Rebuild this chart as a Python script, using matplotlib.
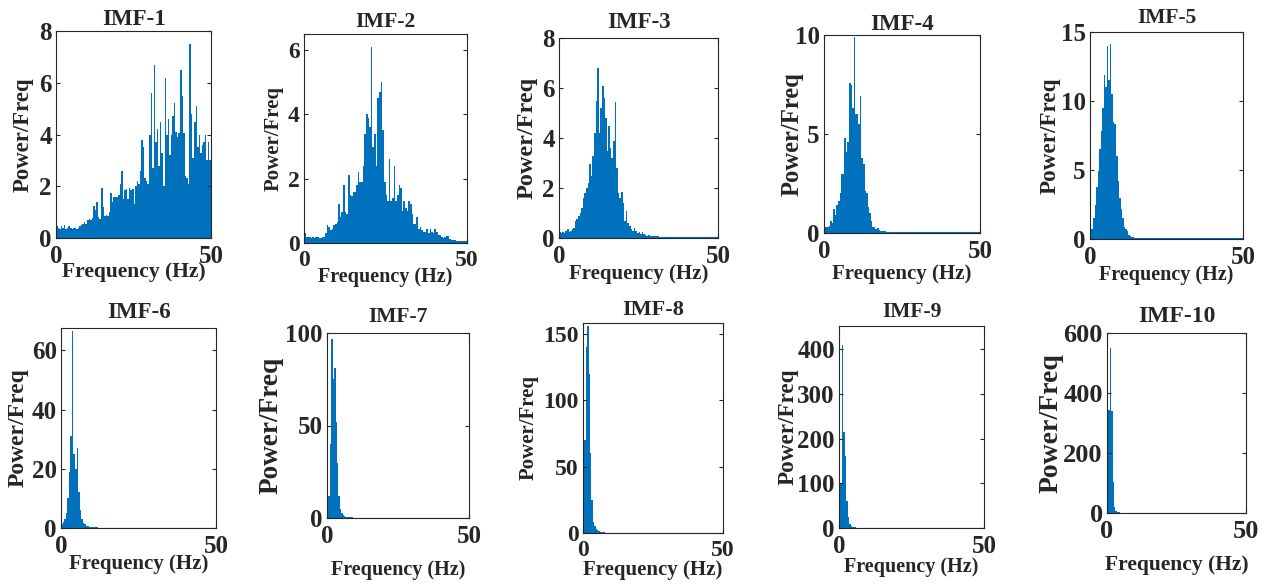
import numpy as np
import matplotlib.pyplot as plt

# Spectra, one value per 0.5 Hz bin starting at 0 Hz
imf1 = [0.45, 0.4, 0.35, 0.45, 0.4, 0.5, 0.35, 0.4, 0.45, 0.4, 0.35, 0.4, 0.4, 0.35, 0.4, 0.45,
        0.5, 0.55, 0.6, 0.55, 0.7, 0.75, 0.7, 0.78, 1.25, 1.1, 1.4, 0.8, 0.75, 1.95, 1.2, 0.85,
        0.9, 0.85, 1.0, 1.75, 1.4, 1.6, 1.6, 1.6, 1.65, 2.1, 2.6, 1.5, 1.85, 1.9, 1.5, 1.95,
        1.85, 1.9, 1.3, 2.0, 2.2, 2.1, 2.6, 3.8, 3.5, 2.3, 2.2, 2.1, 4.0, 5.6, 2.7, 6.7,
        3.7, 4.2, 2.8, 4.5, 3.3, 2.0, 6.2, 4.0, 4.6, 3.2, 4.0, 4.7, 5.2, 4.1, 3.9, 4.05,
        6.5, 5.5, 4.05, 2.4, 2.3, 2.1, 7.5, 4.8, 3.1, 4.5, 5.1, 3.5, 4.0, 3.3, 3.6, 3.7,
        4.0, 3.0, 3.7, 3.0, 8.0, 3.8]
imf2 = [0.3, 0.2, 0.18, 0.2, 0.17, 0.19, 0.15, 0.18, 0.2, 0.17, 0.16, 0.2, 0.18, 0.3, 0.55, 0.5,
        0.4, 0.45, 0.55, 0.6, 0.65, 1.22, 0.8, 0.95, 1.8, 0.95, 0.9, 2.1, 1.5, 1.45, 1.6, 1.6,
        1.8, 2.2, 1.9, 1.9, 2.4, 3.4, 4.0, 3.9, 3.6, 6.1, 3.0, 3.4, 2.4, 4.5, 4.7, 5.0,
        3.5, 1.9, 1.5, 1.3, 2.6, 1.3, 1.4, 2.4, 1.3, 1.5, 1.8, 1.7, 1.0, 1.3, 1.1, 1.0,
        1.3, 1.2, 0.9, 0.6, 0.6, 0.8, 0.45, 0.5, 0.4, 0.35, 0.35, 0.45, 0.3, 0.45, 0.35, 0.3,
        0.45, 0.35, 0.25, 0.25, 0.2, 0.17, 0.2, 0.22, 0.22, 0.12, 0.1, 0.08, 0.1, 0.06, 0.07, 0.05,
        0.06, 0.05, 0.06, 0.05]
imf3 = [0.25, 0.2, 0.25, 0.22, 0.3, 0.35, 0.25, 0.3, 0.35, 0.4, 0.7, 0.75, 0.9, 1.0, 1.2, 1.6,
        1.8, 2.0, 2.2, 2.95, 2.5, 3.3, 4.2, 5.5, 6.8, 4.2, 5.2, 6.1, 5.6, 4.8, 3.5, 4.5,
        3.6, 3.2, 3.9, 5.45, 2.8, 1.8, 1.6, 1.85, 1.4, 0.7, 1.1, 0.6, 0.5, 0.35, 0.3, 0.4,
        0.3, 0.2, 0.25, 0.15, 0.25, 0.15, 0.12, 0.1, 0.12, 0.1, 0.08, 0.1, 0.08, 0.07, 0.08, 0.06]
imf3_tail = 0.04
imf4 = [0.3, 0.3, 0.3, 0.35, 0.6, 0.5, 1.2, 0.9, 1.4, 1.6, 2.0, 3.0, 3.0, 4.8, 4.1, 4.6,
        7.6, 7.5, 6.3, 9.9, 6.0, 6.0, 5.5, 6.9, 3.8, 3.5, 2.1, 2.0, 1.3, 1.0, 0.6, 0.3,
        0.3, 0.2, 0.25, 0.15, 0.1, 0.12, 0.1, 0.08]
imf4_tail = 0.05
imf5 = [0.7, 0.7, 1.5, 2.5, 3.8, 4.9, 6.5, 7.8, 9.5, 11.9, 11.0, 14.0, 11.5, 14.1, 10.5, 8.5,
        8.3, 6.0, 4.2, 3.0, 2.2, 1.5, 0.9, 0.7, 0.6, 0.3, 0.2, 0.15, 0.12, 0.1, 0.1, 0.08]
imf5_tail = 0.05
imf6 = [1.5, 2.0, 3.0, 5.0, 10.0, 19.0, 31.0, 66.5, 25.0, 20.0, 27.0, 12.0, 6.0, 3.0, 1.8, 1.2,
        0.8, 0.6, 0.5, 0.4, 0.3, 0.3, 0.25, 0.2]
imf6_tail = 0.1
imf7 = [3.0, 12.0, 40.0, 97.0, 75.0, 81.0, 52.0, 30.0, 12.0, 5.0, 2.5, 1.5, 1.0, 0.8, 0.6, 0.5,
        0.4, 0.3]
imf7_tail = 0.2
imf8 = [10.0, 70.0, 140.0, 156.0, 120.0, 60.0, 25.0, 8.0, 5.0, 3.0, 2.0, 1.2, 0.8, 0.6, 0.5, 0.4]
imf8_tail = 0.3
imf9 = [30.0, 100.0, 410.0, 215.0, 160.0, 60.0, 25.0, 10.0, 5.0, 3.0, 2.0, 1.5, 1.0, 0.8]
imf9_tail = 0.5
imf10 = [100.0, 345.0, 550.0, 340.0, 105.0, 20.0, 8.0, 4.0, 2.0, 1.5, 1.0, 0.8]
imf10_tail = 0.5

spectra = [imf1, imf2, imf3, imf4, imf5, imf6, imf7, imf8, imf9, imf10]
tails = [None, None, imf3_tail, imf4_tail, imf5_tail, imf6_tail, imf7_tail, imf8_tail, imf9_tail, imf10_tail]
titles = ['IMF-%d' % (i + 1) for i in range(10)]
ylims = [8, 6.5, 8, 10, 15, 67.6, 100, 158, 452, 600]
yticks = [[0, 2, 4, 6, 8], [0, 2, 4, 6], [0, 2, 4, 6, 8], [0, 5, 10], [0, 5, 10, 15],
          [0, 20, 40, 60], [0, 50, 100], [0, 50, 100, 150], [0, 100, 200, 300, 400],
          [0, 200, 400, 600]]
bin_width = 0.5

# layout, pixels: axes box (left, right, top, bottom)
boxes = [(56, 211, 31, 238), (304, 467, 34, 243), (559, 718, 38, 238), (824, 980, 35, 233),
         (1090, 1243, 32, 239), (61, 216, 328, 528), (327, 469, 333, 518), (583, 723, 323, 533),
         (839, 984, 326, 528), (1107, 1246, 333, 513)]
xlab_top = [262, 267, 264, 264, 265, 554, 560, 560, 557, 555]
ylab_right = [34, 284, 538, 804, 1061, 29, 284, 539, 799, 1064]
title_gap = [6, 7, 10, 5, 9, 10, 11, 8, 9, 11]
tick_size = [18, 17, 18, 18, 18, 18, 18, 17, 18, 19]
xlab_size = [15.5, 14.5, 15, 15, 14.5, 15, 14.5, 15, 14.5, 15.5]
ylab_size = [16.4, 15, 17.5, 17.7, 16.7, 17, 19.6, 15, 16.7, 20]
title_size = [16.5, 15.7, 16.5, 16.5, 15.5, 16.5, 15.5, 16, 15.5, 17]

W, H = 1269, 586
plt.rcParams['font.family'] = 'Liberation Serif'
plt.rcParams['font.weight'] = 'bold'
txt = '#262626'
blue = '#0072BD'

fig = plt.figure(figsize=(W / 100, H / 100), dpi=100)

for k in range(10):
    l, r, t, b = boxes[k]
    ax = fig.add_axes([l / W, 1 - b / H, (r - l) / W, (b - t) / H])
    vals = spectra[k]
    freqs = np.arange(len(vals)) * bin_width
    ax.bar(freqs, vals, width=bin_width, align='edge', color=blue, linewidth=0)
    if tails[k] is not None:
        end = len(vals) * bin_width
        ax.fill_between([end, 50], 0, tails[k], color=blue, linewidth=0.8, edgecolor=blue)
    ax.set_xlim(0, 50)
    ax.set_ylim(0, ylims[k])
    ax.set_xticks([0, 50])
    ax.set_yticks(yticks[k])
    ax.tick_params(direction='in', top=True, right=True, length=3, width=0.8,
                   labelsize=tick_size[k], colors=txt)
    ax.tick_params(axis='x', pad=5)
    ax.tick_params(axis='y', pad=3)
    for s in ax.spines.values():
        s.set_color(txt)
        s.set_linewidth(0.8)
    ax.set_title(titles[k], fontsize=title_size[k], fontweight='bold', color=txt,
                 pad=title_gap[k] * 0.72)
    ax.set_xlabel('Frequency (Hz)', fontsize=xlab_size[k], fontweight='bold', color=txt)
    ax.set_ylabel('Power/Freq', fontsize=ylab_size[k], fontweight='bold', color=txt)
    ax.xaxis.set_label_coords(0.5, (b - xlab_top[k]) / (b - t))
    ax.yaxis.set_label_coords((ylab_right[k] - l) / (r - l), 0.5)

fig.savefig('out.png', dpi=100)
